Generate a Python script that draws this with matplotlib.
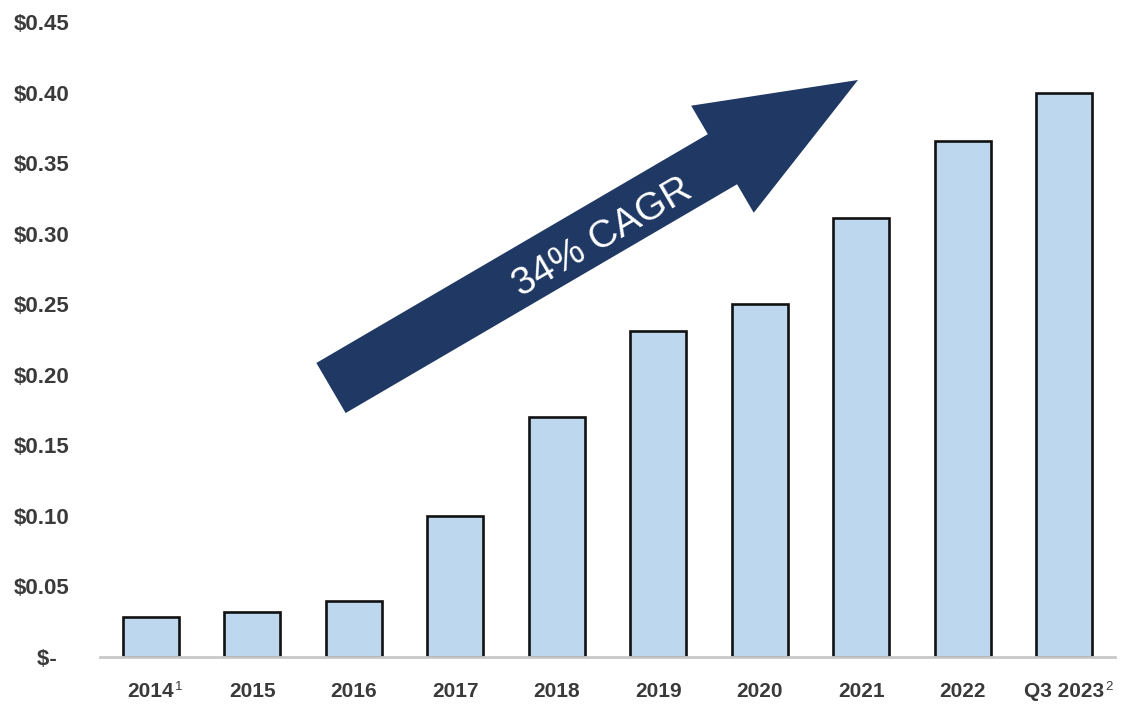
import matplotlib.pyplot as plt
import numpy as np
from matplotlib.patches import Polygon

plt.rcParams['font.family'] = ['Liberation Sans', 'DejaVu Sans']

years = ['2014', '2015', '2016', '2017', '2018', '2019', '2020', '2021', '2022', 'Q3 2023']
footnotes = {'2014': '1', 'Q3 2023': '2'}
dividend = [0.028, 0.032, 0.040, 0.100, 0.170, 0.231, 0.250, 0.311, 0.366, 0.400]
yticks = [0, 0.05, 0.10, 0.15, 0.20, 0.25, 0.30, 0.35, 0.40, 0.45]
ytick_labels = [r'\$-  '] + [r'\$%.2f' % v for v in yticks[1:]]
growth_label = '34% CAGR'

W, H = 1125, 713
fig = plt.figure(figsize=(W / 100, H / 100), dpi=100)
ax = fig.add_axes([100 / W, 1 - 657 / H, 1015 / W, 635 / H])

x = np.arange(len(years))
ax.bar(x, dividend, width=0.55, color='#BDD7EE', edgecolor='#111111', linewidth=1.9, zorder=2)

ax.set_xlim(-0.5, len(years) - 0.5)
ax.set_ylim(0, 0.45)
ax.set_yticks(yticks)
ax.set_yticklabels(ytick_labels, fontsize=16, fontweight='bold', color='#3a3a3a')
ax.set_xticks(x)
ax.set_xticklabels(years, fontsize=15, fontweight='bold', color='#3a3a3a')
ax.tick_params(axis='both', length=0)
ax.tick_params(axis='y', pad=22)
ax.tick_params(axis='x', pad=18)

for side in ['top', 'right', 'left']:
    ax.spines[side].set_visible(False)
ax.spines['bottom'].set_color('#c8c8c8')
ax.spines['bottom'].set_linewidth(2)

# small footnote markers after some year labels
fig.canvas.draw()
for lab in ax.get_xticklabels():
    mark = footnotes.get(lab.get_text())
    if mark:
        bb = lab.get_window_extent()
        fig.text((bb.x1 + 0.5) / W, (bb.y1 + 1) / H, mark, fontsize=9.5,
                 color='#3a3a3a', ha='left', va='top')

# growth arrow, built in pixel space then mapped to figure fraction
tail = np.array([331.0, 388.0])
tip = np.array([858.0, 80.0])
u = (tip - tail) / np.linalg.norm(tip - tail)
n = np.array([-u[1], u[0]])
shaft, head_w, head_l = 29, 62, 157
neck = tip - head_l * u
pts = [tail - shaft * n, neck - shaft * n, neck - head_w * n, tip,
       neck + head_w * n, neck + shaft * n, tail + shaft * n]
pts = [(p[0] / W, 1 - p[1] / H) for p in pts]
fig.patches.append(Polygon(pts, closed=True, facecolor='#1F3864', edgecolor='none',
                           transform=fig.transFigure, zorder=3))

mid = tail + 310 * u + 7 * n
angle = np.degrees(np.arctan2(-u[1], u[0]))
fig.text(mid[0] / W, 1 - mid[1] / H, growth_label, color='white', fontsize=28,
         rotation=angle, rotation_mode='anchor', ha='center', va='center', zorder=4)

fig.savefig('out.png', dpi=100, facecolor='white')
